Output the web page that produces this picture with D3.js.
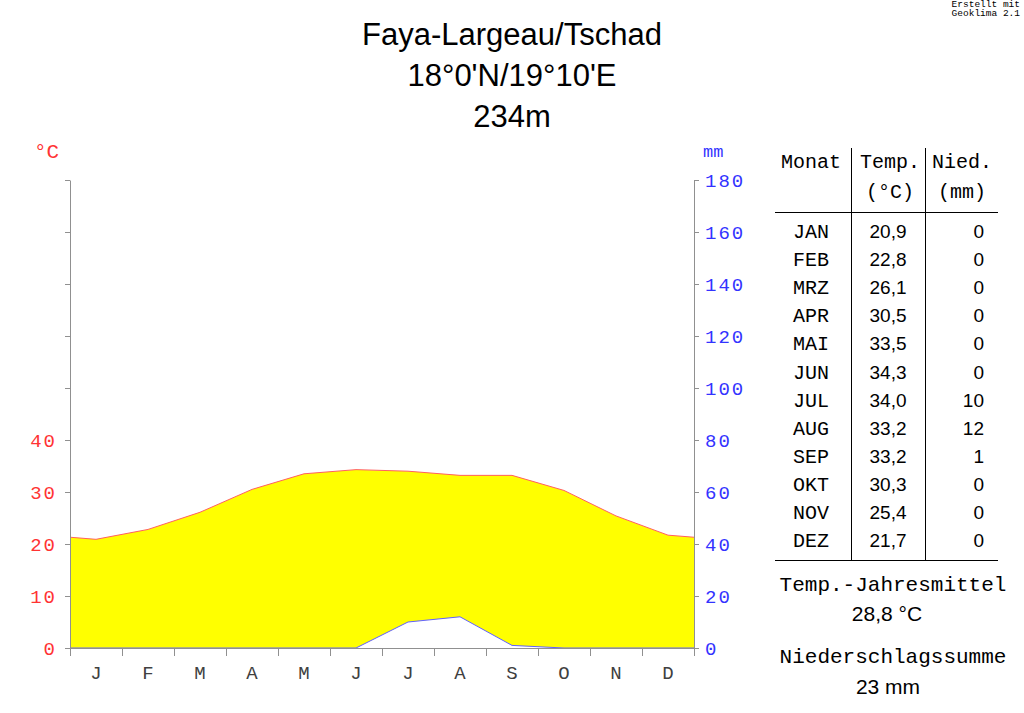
<!DOCTYPE html>
<html>
<head>
<meta charset="utf-8">
<script src="https://cdn.jsdelivr.net/npm/d3@7"></script>
<style>
  body { margin: 0; background: #fff; }
  svg { display: block; }
  .mono { font-family: "Liberation Mono", "DejaVu Sans Mono", monospace; }
  .sans { font-family: "Liberation Sans", Arial, sans-serif; }
</style>
</head>
<body>
<svg id="vis" width="1024" height="713"></svg>
<script>
// climate data, Faya-Largeau
let months = ["JAN", "FEB", "MRZ", "APR", "MAI", "JUN", "JUL", "AUG", "SEP", "OKT", "NOV", "DEZ"];
let monthLetters = ["J", "F", "M", "A", "M", "J", "J", "A", "S", "O", "N", "D"];
let temps = [20.9, 22.8, 26.1, 30.5, 33.5, 34.3, 34.0, 33.2, 33.2, 30.3, 25.4, 21.7];
let precip = [0, 0, 0, 0, 0, 0, 10, 12, 1, 0, 0, 0];
let tempTicks = [0, 10, 20, 30, 40, 50, 60, 70, 80, 90];
let precipTicks = [0, 20, 40, 60, 80, 100, 120, 140, 160, 180];
let titleLines = ["Faya-Largeau/Tschad", "18°0'N/19°10'E", "234m"];
let tempMean = "28,8 °C";
let precipSum = "23 mm";

let red = "#ff3333";
let blue = "#3333ff";
let axisGray = "#909090";

let svg = d3.select("#vis");

let margin = { left: 70, right: 694, top: 180, bottom: 648 };

let x = d3.scaleLinear().domain([0, 12]).range([margin.left, margin.right]);
let yT = d3.scaleLinear().domain([0, 90]).range([margin.bottom, margin.top]);
let yP = d3.scaleLinear().domain([0, 180]).range([margin.bottom, margin.top]);

// points at month centres, edges closed with the Dec/Jan wrap
let edgeT = (temps[0] + temps[11]) / 2;
let edgeP = (precip[0] + precip[11]) / 2;
let pts = [{ m: 0, t: edgeT, p: edgeP }];
for (let i = 0; i < 12; i++) {
  pts.push({ m: i + 0.5, t: temps[i], p: precip[i] });
}
pts.push({ m: 12, t: edgeT, p: edgeP });

// arid area (yellow) between precipitation and temperature
let area = d3.area()
  .x(function(d) { return x(d.m); })
  .y0(function(d) { return yP(d.p); })
  .y1(function(d) { return yT(d.t); });
svg.append("path")
  .attr("d", area(pts))
  .attr("fill", "#ffff00");

let lineT = d3.line()
  .x(function(d) { return x(d.m); })
  .y(function(d) { return yT(d.t); });
let lineP = d3.line()
  .x(function(d) { return x(d.m); })
  .y(function(d) { return yP(d.p); });

svg.append("path")
  .attr("d", lineT(pts))
  .attr("fill", "none")
  .attr("stroke", "#ff6060")
  .attr("stroke-width", 1);
svg.append("path")
  .attr("d", lineP(pts))
  .attr("fill", "none")
  .attr("stroke", "#6060ff")
  .attr("stroke-width", 1);

// axes
let leftAxis = d3.axisLeft(yT)
  .tickValues(tempTicks)
  .tickFormat(function(d) { return d <= 40 ? d : ""; })
  .tickSize(5)
  .tickSizeOuter(0)
  .tickPadding(8);
let gl = svg.append("g")
  .attr("transform", "translate(" + margin.left + ",0)")
  .call(leftAxis);

let rightAxis = d3.axisRight(yP)
  .tickValues(precipTicks)
  .tickSize(5)
  .tickSizeOuter(0)
  .tickPadding(6);
let gr = svg.append("g")
  .attr("transform", "translate(" + margin.right + ",0)")
  .call(rightAxis);

let bottomAxis = d3.axisBottom(x)
  .tickValues(d3.range(0, 13))
  .tickFormat("")
  .tickSize(8)
  .tickSizeOuter(0);
let gb = svg.append("g")
  .attr("transform", "translate(0," + margin.bottom + ")")
  .call(bottomAxis);

[gl, gr, gb].forEach(function(g) {
  g.select(".domain").attr("stroke", axisGray);
  g.selectAll(".tick line").attr("stroke", axisGray);
  g.selectAll("text")
    .attr("class", "mono")
    .style("font-size", "19px")
    .style("letter-spacing", "2px");
});
gl.selectAll("text").attr("fill", red).attr("dy", "0.36em");
gr.selectAll("text").attr("fill", blue).attr("dy", "0.36em");

svg.selectAll(".month-letter")
  .data(monthLetters)
  .enter().append("text")
  .attr("class", "mono month-letter")
  .attr("x", function(d, i) { return x(i + 0.5); })
  .attr("y", 679)
  .attr("text-anchor", "middle")
  .attr("fill", "#404040")
  .style("font-size", "19px")
  .text(function(d) { return d; });

// unit labels
svg.append("text")
  .attr("class", "mono")
  .attr("x", 34)
  .attr("y", 158)
  .attr("fill", red)
  .style("font-size", "21px")
  .text("°C");
svg.append("text")
  .attr("class", "mono")
  .attr("x", 703)
  .attr("y", 157)
  .attr("fill", blue)
  .style("font-size", "17px")
  .text("mm");

// title
svg.selectAll(".title")
  .data(titleLines)
  .enter().append("text")
  .attr("class", "sans title")
  .attr("x", 512)
  .attr("y", function(d, i) { return 45 + i * 41; })
  .attr("text-anchor", "middle")
  .attr("fill", "#000")
  .style("font-size", "31px")
  .text(function(d) { return d; });

// credit
svg.append("text")
  .attr("class", "mono")
  .attr("x", 1020).attr("y", 7)
  .attr("text-anchor", "end")
  .style("font-size", "9.5px")
  .text("Erstellt mit");
svg.append("text")
  .attr("class", "mono")
  .attr("x", 1020).attr("y", 16)
  .attr("text-anchor", "end")
  .style("font-size", "9.5px")
  .text("Geoklima 2.1");

// table
let table = svg.append("g");
let tColMonth = 811, tColTemp = 888, tColPrec = 984;
let line = function(x1, y1, x2, y2) {
  table.append("line")
    .attr("x1", x1).attr("y1", y1).attr("x2", x2).attr("y2", y2)
    .attr("stroke", "#000").attr("stroke-width", 1);
};
line(851.5, 148, 851.5, 560);
line(925.5, 148, 925.5, 560);
line(775, 212.5, 998, 212.5);
line(775, 560.5, 998, 560.5);

let header = [
  { x: 811, y: 168, t: "Monat" },
  { x: 890, y: 168, t: "Temp." },
  { x: 962, y: 168, t: "Nied." },
  { x: 890, y: 198, t: "(°C)" },
  { x: 962, y: 198, t: "(mm)" }
];
table.selectAll(".hdr")
  .data(header)
  .enter().append("text")
  .attr("class", "mono hdr")
  .attr("x", function(d) { return d.x; })
  .attr("y", function(d) { return d.y; })
  .attr("text-anchor", "middle")
  .style("font-size", "20px")
  .text(function(d) { return d.t; });

let rowY = function(i) { return 238 + i * 28.1; };
table.selectAll(".rmonth")
  .data(months)
  .enter().append("text")
  .attr("class", "mono rmonth")
  .attr("x", tColMonth)
  .attr("y", function(d, i) { return rowY(i); })
  .attr("text-anchor", "middle")
  .style("font-size", "20px")
  .text(function(d) { return d; });
table.selectAll(".rtemp")
  .data(temps)
  .enter().append("text")
  .attr("class", "sans rtemp")
  .attr("x", tColTemp)
  .attr("y", function(d, i) { return rowY(i); })
  .attr("text-anchor", "middle")
  .style("font-size", "19px")
  .text(function(d) { return d.toFixed(1).replace(".", ","); });
table.selectAll(".rprec")
  .data(precip)
  .enter().append("text")
  .attr("class", "sans rprec")
  .attr("x", tColPrec)
  .attr("y", function(d, i) { return rowY(i); })
  .attr("text-anchor", "end")
  .style("font-size", "19px")
  .text(function(d) { return d; });

// summary
svg.append("text")
  .attr("class", "mono")
  .attr("x", 893).attr("y", 591)
  .attr("text-anchor", "middle")
  .style("font-size", "21px")
  .text("Temp.-Jahresmittel");
svg.append("text")
  .attr("class", "sans")
  .attr("x", 887).attr("y", 621)
  .attr("text-anchor", "middle")
  .style("font-size", "21px")
  .text(tempMean);
svg.append("text")
  .attr("class", "mono")
  .attr("x", 893).attr("y", 663)
  .attr("text-anchor", "middle")
  .style("font-size", "21px")
  .text("Niederschlagssumme");
svg.append("text")
  .attr("class", "sans")
  .attr("x", 888).attr("y", 694)
  .attr("text-anchor", "middle")
  .style("font-size", "21px")
  .text(precipSum);
</script>
</body>
</html>
